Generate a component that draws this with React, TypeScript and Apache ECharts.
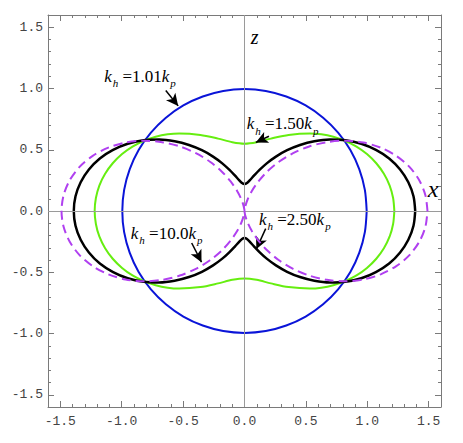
import React, { useEffect, useRef } from "react";
import * as echarts from "echarts";

// ---- data (upper-right quadrant of each curve, [x, z]) ----
const blueQ: number[][] = [
  [0.995, 0], [0.98, 0.173], [0.935, 0.34], [0.862, 0.498], [0.762, 0.64],
  [0.64, 0.762], [0.498, 0.862], [0.34, 0.935], [0.173, 0.98], [0, 0.995],
];
const greenQ: number[][] = [
  [1.22, 0], [1.21, 0.106], [1.182, 0.208], [1.135, 0.304], [1.073, 0.39],
  [0.997, 0.465], [0.912, 0.526], [0.819, 0.573], [0.723, 0.606], [0.626, 0.626],
  [0.532, 0.633], [0.359, 0.621], [0.215, 0.591], [0.099, 0.562], [0, 0.55],
];
const blackQ: number[][] = [
  [1.39, 0], [1.376, 0.12], [1.334, 0.235], [1.267, 0.339], [1.178, 0.429],
  [1.07, 0.499], [0.951, 0.549], [0.823, 0.577], [0.695, 0.583], [0.569, 0.569],
  [0.452, 0.539], [0.347, 0.496], [0.256, 0.444], [0.181, 0.389], [0.122, 0.335],
  [0.077, 0.288], [0.044, 0.252], [0.02, 0.228], [0, 0.22],
];
const purpleQ: number[][] = [
  [1.49, 0], [1.473, 0.129], [1.423, 0.251], [1.343, 0.36], [1.236, 0.45],
  [1.109, 0.517], [0.968, 0.559], [0.819, 0.574], [0.67, 0.562], [0.527, 0.527],
  [0.396, 0.472], [0.281, 0.402], [0.186, 0.323], [0.113, 0.241], [0.06, 0.164],
  [0.026, 0.096], [0.008, 0.044], [0.001, 0.011], [0, 0],
];
const majorTicks = [-1.5, -1, -0.5, 0, 0.5, 1, 1.5];

const labelTexts = ["1.01", "1.50", "2.50", "10.0"];
const labelAnchors: number[][] = [
  [-1.143, 1.1], [0.018, 0.712], [0.118, -0.069], [-0.926, -0.182],
];
const arrowLines: number[][][] = [
  [[-0.641, 0.984], [-0.54, 0.858]],
  [[0.199, 0.61], [0.092, 0.56]],
  [[0.1725, -0.1435], [0.097, -0.31]],
  [[-0.43, -0.261], [-0.35, -0.418]],
];

function fullCurve(q: number[][]): number[][] {
  const q2 = q.slice().reverse().map(([x, z]) => [-x, z]);
  const q3 = q.map(([x, z]) => [-x, -z]);
  const q4 = q.slice().reverse().map(([x, z]) => [x, -z]);
  return [...q, ...q2.slice(1), ...q3.slice(1), ...q4.slice(1)];
}

const FRAME = "#7a7a7a";

function axisPair(kind: "x" | "y", pos: string, withLabels: boolean) {
  const base: any = {
    type: "value",
    min: -1.6,
    max: 1.6,
    position: pos,
    splitLine: { show: false },
  };
  const major = {
    ...base,
    axisLine: { show: true, onZero: false, lineStyle: { color: FRAME, width: 1 } },
    axisTick: { show: true, inside: true, length: 6, customValues: majorTicks, lineStyle: { color: FRAME } },
    axisLabel: withLabels
      ? {
          show: true,
          customValues: majorTicks,
          formatter: (v: number) => v.toFixed(1),
          fontFamily: "Liberation Mono",
          fontSize: 13,
          color: "#444",
          margin: kind === "x" ? 8 : 5,
        }
      : { show: false },
  };
  const minor = {
    ...base,
    interval: 0.1,
    axisLine: { show: false, onZero: false },
    axisTick: { show: true, inside: true, length: 3, lineStyle: { color: FRAME } },
    axisLabel: { show: false },
  };
  return [major, minor];
}

const serif = "Liberation Serif";
const rich = {
  i: { fontFamily: serif, fontStyle: "italic", fontSize: 17, color: "#000", lineHeight: 20 },
  s: { fontFamily: serif, fontStyle: "italic", fontSize: 11, color: "#000", lineHeight: 12, padding: [14, 0, 0, 1] },
  n: { fontFamily: serif, fontSize: 17, color: "#000", lineHeight: 20 },
};

export default function App() {
  const ref = useRef<HTMLDivElement>(null);
  useEffect(() => {
    if (!ref.current) return;
    const chart = echarts.init(ref.current, null, { renderer: "svg" });
    const curveSeries = (data: number[][], color: string, width: number, type: any, z: number) => ({
      type: "line",
      data,
      showSymbol: false,
      symbol: "none",
      smooth: 0.3,
      z,
      lineStyle: { color, width, type },
      silent: true,
    });
    chart.setOption({
      animation: false,
      backgroundColor: "#fff",
      grid: { left: 48, top: 15, width: 393, height: 392, outerBoundsMode: "none", show: false },
      xAxis: [...axisPair("x", "bottom", true), ...axisPair("x", "top", false)],
      yAxis: [...axisPair("y", "left", true), ...axisPair("y", "right", false)],
      series: [
        {
          type: "line",
          data: [],
          z: 1,
          markLine: {
            silent: true,
            symbol: ["none", "none"],
            label: { show: false },
            lineStyle: { color: "#9a9a9a", width: 1, type: "solid" },
            data: [{ xAxis: 0 }, { yAxis: 0 }],
          },
        },
        curveSeries(fullCurve(blueQ), "#0a14d8", 2, "solid", 2),
        curveSeries(fullCurve(greenQ), "#66ee10", 2, "solid", 3),
        curveSeries(fullCurve(blackQ), "#000000", 2.5, "solid", 4),
        curveSeries(fullCurve(purpleQ), "#b040f0", 2, [9, 5], 5),
        {
          type: "line",
          data: [],
          z: 6,
          markLine: {
            silent: true,
            symbol: ["none", "arrow"],
            symbolSize: [9, 12],
            label: { show: false },
            lineStyle: { color: "#000", width: 1.5, type: "solid" },
            data: arrowLines.map(([a, b]) => [{ coord: a }, { coord: b }]),
          },
          markPoint: {
            silent: true,
            symbol: "circle",
            symbolSize: 0,
            data: [
              ...labelAnchors.map((c, i) => ({
                coord: c,
                label: {
                  show: true,
                  position: [0, 0],
                  align: "left",
                  verticalAlign: "middle",
                  formatter: `{i|k}{s|h}{n| =${labelTexts[i]}}{i|k}{s|p}`,
                  rich,
                },
              })),
              {
                coord: [0.083, 1.42],
                label: {
                  show: true, position: [0, 0], align: "center", verticalAlign: "middle",
                  formatter: "z", fontFamily: serif, fontStyle: "italic", fontSize: 20, color: "#000",
                },
              },
              {
                coord: [1.536, 0.182],
                label: {
                  show: true, position: [0, 0], align: "center", verticalAlign: "middle",
                  formatter: "x", fontFamily: serif, fontStyle: "italic", fontSize: 24, color: "#000",
                },
              },
            ],
          },
        },
      ],
    });
    return () => chart.dispose();
  }, []);
  return (
    <div
      ref={ref}
      style={{ position: "absolute", left: 0, top: 0, width: 463, height: 443, background: "#fff" }}
    />
  );
}
